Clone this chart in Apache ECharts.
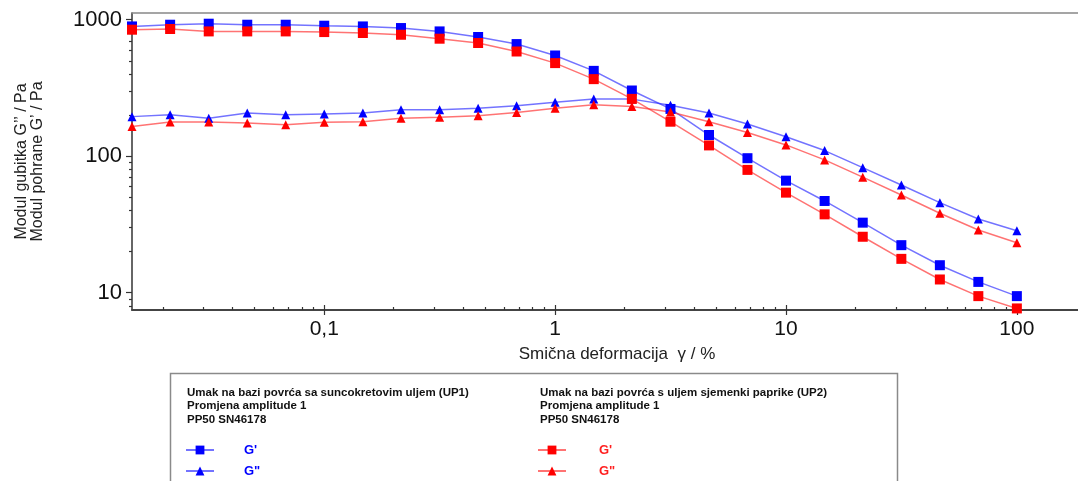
<!DOCTYPE html>
<html><head><meta charset="utf-8">
<script src="https://cdn.jsdelivr.net/npm/echarts@6/dist/echarts.min.js"></script>
<style>html,body{margin:0;padding:0;background:#fff}#c{width:1078px;height:481px}</style>
</head><body><div id="c"></div>
<script>
// ---- data ----
const strain = [0.0147,0.0215,0.0316,0.0464,0.0681,0.1,0.147,0.215,0.316,0.464,0.681,1,1.47,2.15,3.16,4.64,6.81,10,14.7,21.5,31.6,46.4,68.1,100];
const gPrimeUP1  = [893,919,935,919,919,904,893,869,821,747,663,547,422,303,222,143,96.7,66.2,47.0,32.6,22.3,15.9,12.0,9.44];
const gDoubleUP1 = [195,201,190,207,201,204,207,219,219,225,234,249,263,262,236,207,172,139,110,82.4,61.5,45.7,34.7,28.4];
const gPrimeUP2  = [845,855,821,821,821,812,799,776,726,675,585,481,367,263,179,120,79.4,54.1,37.5,25.7,17.7,12.5,9.44,7.67];
const gDoubleUP2 = [165,178,178,175,170,177,179,190,193,198,209,225,238,231,211,179,149,121,94.0,70.2,52.0,38.2,28.8,23.2];

const xMajorTicks = [0.1,1,10,100];
const xMinorTicks = [0.02,0.03,0.04,0.05,0.06,0.07,0.08,0.09,0.2,0.3,0.4,0.5,0.6,0.7,0.8,0.9,2,3,4,5,6,7,8,9,20,30,40,50,60,70,80,90];
const yMajorTicks = [10,100,1000];
const yMinorTicks = [8,9,20,30,40,50,60,70,80,90,200,300,400,500,600,700,800,900];

const X_MIN = 0.0147, X_MAX = 184;
const Y_MIN = 7.47, Y_MAX = 1120;

const header1 = 'Umak na bazi povrća sa suncokretovim uljem (UP1)\nPromjena amplitude 1\nPP50 SN46178';
const header2 = 'Umak na bazi povrća s uljem sjemenki paprike (UP2)\nPromjena amplitude 1\nPP50 SN46178';
const legendLabels = {'UP1 Gp': "G'", 'UP1 Gpp': 'G"', 'UP2 Gp': "G'", 'UP2 Gpp': 'G"'};

// ---- chart ----
const FONT = 'Liberation Sans, Arial, sans-serif';
const chart = echarts.init(document.getElementById('c'), null, {renderer: 'canvas'});
const pairs = arr => strain.map((x, i) => [x, arr[i]]);
const lg = v => Math.log10(v);

function mkSeries(name, data, color, lineColor, symbol, size) {
  return {
    name, type: 'line', data: pairs(data), xAxisIndex: 0, yAxisIndex: 0,
    symbol, symbolSize: size, showSymbol: true,
    itemStyle: {color},
    lineStyle: {color: lineColor, width: 1.5},
    emphasis: {disabled: true}, animation: false
  };
}

const decoX = (ticks, inside, len) => ({
  type: 'value', position: 'bottom', min: lg(X_MIN), max: lg(X_MAX),
  axisLine: {show: false, onZero: false}, axisLabel: {show: false}, splitLine: {show: false},
  axisTick: {show: true, inside, length: len, customValues: ticks.map(lg), lineStyle: {color: '#333', width: 1.2}}
});
const decoY = (ticks, len) => ({
  type: 'value', position: 'left', min: lg(Y_MIN), max: lg(Y_MAX),
  axisLine: {show: false, onZero: false}, axisLabel: {show: false}, splitLine: {show: false},
  axisTick: {show: true, inside: false, length: len, customValues: ticks.map(lg), lineStyle: {color: '#333', width: 1.2}}
});
const mkLegend = (name, left, top, color, pad) => ({
  left, top, padding: 0, orient: 'vertical', selectedMode: false, itemWidth: 28, itemHeight: 11,
  data: [{name}], formatter: n => legendLabels[n],
  textStyle: {fontFamily: FONT, fontSize: 13, fontWeight: 'bold', color, padding: [0, 0, 0, pad]}
});

const option = {
  backgroundColor: '#fff',
  animation: false,
  grid: {left: 132, top: 13, right: 0, bottom: 171, containLabel: false},
  title: [
    {text: header1, left: 187, top: 386, padding: 0,
     textStyle: {fontFamily: FONT, fontSize: 11.5, fontWeight: 'bold', lineHeight: 13.5, color: '#111'}},
    {text: header2, left: 540, top: 386, padding: 0,
     textStyle: {fontFamily: FONT, fontSize: 11.5, fontWeight: 'bold', lineHeight: 13.5, color: '#111'}}
  ],
  legend: [
    mkLegend('UP1 Gp', 185, 443.5, '#0000ff', 25),
    mkLegend('UP1 Gpp', 185, 464.5, '#0000ff', 25),
    mkLegend('UP2 Gp', 537, 443.5, '#ff2020', 28),
    mkLegend('UP2 Gpp', 537, 464.5, '#ff2020', 28)
  ],
  graphic: [
    {type: 'rect', silent: true, shape: {x: 170.5, y: 373.5, width: 727, height: 130},
     style: {fill: 'none', stroke: '#8a8a8a', lineWidth: 1.5}}
  ],
  xAxis: [
    {type: 'log', logBase: 10, min: X_MIN, max: X_MAX, position: 'bottom',
     name: 'Smična deformacija  γ / %', nameLocation: 'middle', nameGap: 36,
     nameTextStyle: {fontFamily: FONT, fontSize: 17, color: '#222', padding: [0, 0, 0, 24]},
     axisLine: {show: true, onZero: false, lineStyle: {color: '#444', width: 2}},
     axisTick: {show: false}, splitLine: {show: false}, minorTick: {show: false},
     axisLabel: {fontFamily: FONT, fontSize: 21, color: '#111', margin: 9,
       showMinLabel: false, showMaxLabel: false,
       formatter: v => String(+v.toPrecision(6)).replace('.', ',')}},
    decoX(xMajorTicks, false, 5),
    decoX(xMajorTicks, true, 5),
    decoX(xMinorTicks, true, 3),
    {type: 'value', position: 'top', min: lg(X_MIN), max: lg(X_MAX),
     axisLine: {show: true, onZero: false, lineStyle: {color: '#888', width: 1.5}},
     axisTick: {show: false}, axisLabel: {show: false}, splitLine: {show: false}}
  ],
  yAxis: [
    {type: 'log', logBase: 10, min: Y_MIN, max: Y_MAX, position: 'left',
     name: "Modul gubitka G’’ / Pa\nModul pohrane G’ / Pa", nameLocation: 'middle', nameGap: 86, nameRotate: 90,
     nameTextStyle: {fontFamily: FONT, fontSize: 16, lineHeight: 16, color: '#222'},
     axisLine: {show: true, onZero: false, lineStyle: {color: '#333', width: 1.5}},
     axisTick: {show: false}, splitLine: {show: false}, minorTick: {show: false},
     axisLabel: {fontFamily: FONT, fontSize: 22, color: '#111', margin: 10,
       showMinLabel: false, showMaxLabel: false,
       formatter: v => String(Math.round(v))}},
    decoY(yMajorTicks, 6),
    decoY(yMinorTicks, 3)
  ],
  series: [
    mkSeries('UP1 Gp',  gPrimeUP1,  '#0000ff', 'rgba(40,40,255,0.65)', 'rect', 10),
    mkSeries('UP1 Gpp', gDoubleUP1, '#0000ff', 'rgba(40,40,255,0.65)', 'triangle', 9),
    mkSeries('UP2 Gp',  gPrimeUP2,  '#ff0000', 'rgba(255,40,40,0.65)', 'rect', 10),
    mkSeries('UP2 Gpp', gDoubleUP2, '#ff0000', 'rgba(255,40,40,0.65)', 'triangle', 9)
  ]
};
chart.setOption(option);
</script>
</body></html>
